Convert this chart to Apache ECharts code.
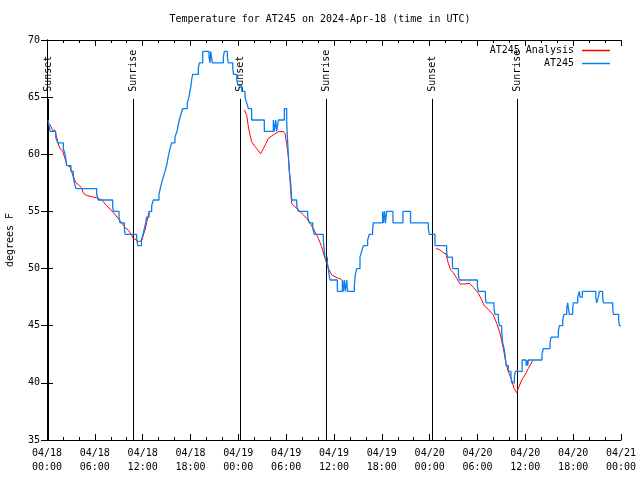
<!DOCTYPE html>
<html><head><meta charset="utf-8">
<script src="https://cdn.jsdelivr.net/npm/echarts@6/dist/echarts.min.js"></script>
<style>html,body{margin:0;padding:0;background:#fff}#c{width:640px;height:480px}</style>
</head><body><div id="c"></div>
<script>
// hours since 04/18 00:00 UTC
const blueHours = [0.15,0.38,1.09,1.34,2.05,2.26,2.38,2.47,3.01,3.30,3.43,3.64,6.23,6.44,8.24,8.32,9.03,9.16,9.70,9.79,
11.25,11.40,11.85,12.05,12.21,12.38,12.50,12.80,13.13,13.34,14.05,14.20,14.38,14.59,14.80,15.00,15.13,15.26,15.43,15.63,
16.05,16.30,16.45,16.60,16.80,17.00,17.60,17.80,17.93,18.06,18.14,18.27,18.98,19.11,19.53,20.32,20.45,20.53,20.74,22.12,
22.25,22.62,22.75,23.30,23.40,23.80,24.00,24.42,24.84,25.05,25.26,25.67,27.26,28.39,28.52,28.68,28.81,29.02,29.77,30.06,
30.15,30.27,30.40,30.57,30.69,31.32,31.53,32.70,32.91,33.33,33.53,34.66,34.79,34.87,35.17,35.29,35.37,35.50,36.42,37.05,
37.17,37.30,37.42,37.59,37.70,38.55,38.68,38.85,39.26,39.47,39.68,40.22,40.43,40.85,40.93,42.10,42.20,42.33,42.45,42.60,
43.40,44.65,45.60,47.83,47.96,48.67,50.13,50.22,50.85,50.89,51.60,51.72,53.98,54.11,54.99,55.07,56.07,56.20,56.62,56.74,
57.03,57.16,57.33,57.45,57.58,57.87,58.20,58.29,58.62,58.75,59.60,60.09,60.17,60.30,60.38,62.09,62.26,63.10,63.22,64.14,
64.27,64.69,64.85,65.19,65.31,65.40,65.52,65.94,66.02,66.57,66.78,66.86,67.15,68.83,68.95,69.16,69.29,69.70,69.79,70.96,
71.04,71.71,71.79,72.0];
const blueTemps = [63,62,61.5,61,60.5,60,59.5,59,58.5,58,57.5,57,56.5,56,55.5,55,54.5,54,53.5,53,
52.5,52,52.5,53,53.5,54,54.5,55,55.5,56,56.5,57,57.5,58,58.5,59,59.5,60,60.5,61,
61.5,62,62.5,63,63.5,64,64.5,65,65.5,66,66.5,67,67.5,68,69,68.5,68,69,68,68.5,
69,68.5,68,67.5,67,66.5,66,65.5,65,64.5,64,63,62,63,62,63,62,63,64,63,
61.5,60,58.5,57.5,56,55.5,55,54.5,54,53.5,53,52.5,51.5,51,50.5,50,49.5,49,48,49,
48,49,48,49,48,48.5,49.5,50,51,51.5,52,52.5,53,53.5,54,55,54,55,54,55,
54,55,54,53.5,53,52,51.5,51,50.5,50,49.5,49,48.5,48,47.5,47,46.5,46,45.5,45,
44.5,43.5,43,42.5,41.5,41,40.5,40,40.5,41,42,41.5,42,41.5,42,42.5,43,43.5,44,44.5,
45,45.5,46,46.5,47,46.5,46,46.5,47,47.5,48,47.5,48,47.5,47,47.5,48,47.5,47,46.5,
46,45.5,45,45];

const redHours = [0.38,0.71,1.00,1.21,1.42,1.63,1.97,2.13,2.38,2.47,2.88,3.30,3.64,3.93,4.35,4.56,4.97,5.81,6.23,6.86,
7.49,8.32,9.16,9.91,10.20,10.62,10.83,11.25,11.54,11.75,11.92,12.08,12.30,12.50,12.71,12.80,
18.0,
24.75,25.05,25.26,25.46,25.67,25.97,26.30,26.80,27.14,27.47,27.76,28.18,28.60,29.02,29.65,29.86,30.06,30.27,30.48,30.69,
31.11,31.32,31.74,32.16,32.57,32.99,33.41,33.62,34.03,34.45,34.87,35.29,35.71,36.13,36.55,36.97,
42.0,
48.80,49.30,49.72,50.05,50.34,50.64,50.97,51.39,51.81,52.43,52.98,53.48,54.11,54.53,54.86,55.36,55.99,56.41,56.83,57.24,
57.58,57.87,58.29,58.58,58.92,59.13,59.54,59.96,60.38,60.92];
const redTemps = [62.6,62.1,62.1,61.5,60.9,60.5,60.3,59.9,59.35,59.06,58.9,58.05,57.5,57.35,57.06,56.6,56.4,56.25,56.2,56.0,
55.5,54.9,54.2,53.5,53.37,52.94,52.65,52.5,52.35,52.21,52.5,52.94,53.37,54.0,54.69,54.98,
null,
63.9,63.4,62.4,61.7,61.1,60.8,60.5,60.06,60.5,60.95,61.4,61.6,61.8,61.97,62.0,61.8,60.95,59.8,57.7,55.7,
55.4,55.3,55.0,54.7,54.4,53.97,53.5,53.23,52.65,51.92,50.9,50.02,49.44,49.29,49.15,49.06,
null,
51.77,51.63,51.39,51.28,50.46,49.87,49.64,49.15,48.65,48.65,48.71,48.36,47.83,47.25,46.73,46.43,45.94,45.2,44.33,43.02,
41.71,40.98,40.25,39.52,39.14,39.52,40.25,40.69,41.27,41.94];

const sunsetHours = [0.17, 24.22, 48.3];
const sunriseHours = [10.85, 34.95, 58.9];
const dayLabels = ['04/18','04/19','04/20','04/21'];
const hourLabels = ['00:00','06:00','12:00','18:00'];
const yTicks = [35,40,45,50,55,60,65,70];

const FONT = 'DejaVu Sans Mono';
const sunLineTop = 64.85;

const sunData = [];
const sunNames = [];
sunsetHours.forEach(h => { sunData.push([h, 35]); sunNames.push('Sunset'); });
sunriseHours.forEach(h => { sunData.push([h, 35]); sunNames.push('Sunrise'); });

const blueData = blueHours.map((h, i) => [h, blueTemps[i]]);
const redData = redHours.map((h, i) => [h, redTemps[i] == null ? '-' : redTemps[i]]);

const chart = echarts.init(document.getElementById('c'), null, {renderer: 'canvas'});

const xCommon = {
  type: 'value', min: 0, max: 72, interval: 6,
  axisLine: {show: true, lineStyle: {color: '#000', width: 1}},
  axisTick: {show: true, inside: true, length: 6, lineStyle: {color: '#000'}},
  minorTick: {show: true, splitNumber: 3, length: 3, lineStyle: {color: '#000'}},
  splitLine: {show: false}, minorSplitLine: {show: false}
};
const yCommon = {
  type: 'value', min: yTicks[0], max: yTicks[yTicks.length - 1], interval: 5,
  axisLine: {show: true, lineStyle: {color: '#000', width: 1}},
  axisTick: {show: true, inside: true, length: 6, lineStyle: {color: '#000'}},
  splitLine: {show: false}
};

chart.setOption({
  animation: false,
  backgroundColor: '#fff',
  title: {
    text: 'Temperature for AT245 on 2024-Apr-18 (time in UTC)',
    left: 'center', top: 14, padding: 0,
    textStyle: {fontFamily: FONT, fontSize: 10, fontWeight: 'normal', color: '#000'}
  },
  legend: {
    data: ['AT245 Analysis', 'AT245'],
    orient: 'vertical', right: 30, top: 44, align: 'right', padding: 0,
    icon: 'rect', itemWidth: 28, itemHeight: 1.5, itemGap: 0,
    textStyle: {fontFamily: FONT, fontSize: 10, color: '#000', lineHeight: 13, padding: [0, 3, 0, 0]}
  },
  grid: {left: 47, right: 19, top: 40, bottom: 40, containLabel: false, outerBoundsMode: 'none'},
  xAxis: [
    Object.assign({}, xCommon, {
      position: 'bottom',
      axisLabel: {
        margin: 6, lineHeight: 14, fontFamily: FONT, fontSize: 10, color: '#000',
        formatter: v => dayLabels[Math.floor(v / 24)] + '\n' + hourLabels[Math.round((v % 24) / 6)]
      }
    }),
    Object.assign({}, xCommon, {position: 'top', axisLabel: {show: false}})
  ],
  yAxis: [
    Object.assign({}, yCommon, {
      position: 'left',
      name: 'degrees F', nameLocation: 'middle', nameGap: 32,
      nameTextStyle: {fontFamily: FONT, fontSize: 10, color: '#000'},
      axisLabel: {margin: 7, fontFamily: FONT, fontSize: 10, color: '#000'}
    }),
    Object.assign({}, yCommon, {position: 'right', axisLabel: {show: false}})
  ],
  series: [
    {
      name: 'AT245 Analysis', type: 'line', data: redData,
      symbol: 'none', connectNulls: false,
      lineStyle: {color: '#ff0000', width: 1}, itemStyle: {color: '#ff0000'}
    },
    {
      name: 'AT245', type: 'line', data: blueData, step: 'end',
      symbol: 'none',
      lineStyle: {color: '#0a80f0', width: 1.3}, itemStyle: {color: '#0a80f0'}
    },
    {
      name: 'sun', type: 'custom', data: sunData, encode: {x: 0, y: 1},
      clip: false, silent: true,
      renderItem: function (params, api) {
        const h = api.value(0);
        const p0 = api.coord([h, 35]);
        const p1 = api.coord([h, sunLineTop]);
        const x = Math.round(p0[0]) + 0.5;
        return {
          type: 'group',
          children: [
            {type: 'line', shape: {x1: x, y1: p0[1], x2: x, y2: p1[1]},
             style: {stroke: '#000', lineWidth: 1}},
            {type: 'text', x: x, y: p1[1] - 7, rotation: Math.PI / 2,
             style: {text: sunNames[params.dataIndex], fill: '#000',
                     font: '10px "' + FONT + '"', align: 'left', verticalAlign: 'middle'}}
          ]
        };
      }
    }
  ]
});
</script></body></html>
